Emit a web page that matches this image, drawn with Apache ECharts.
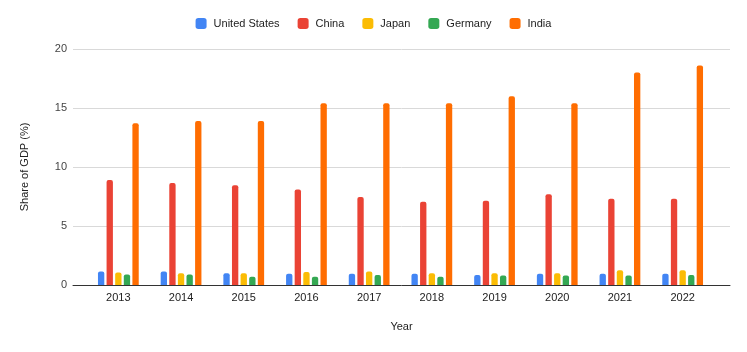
<!DOCTYPE html>
<html>
<head>
<meta charset="utf-8">
<script src="https://cdn.jsdelivr.net/npm/echarts@6/dist/echarts.min.js"></script>
<style>
  html, body { margin: 0; padding: 0; background: #fff; }
  #chart { width: 747px; height: 352px; }
</style>
</head>
<body>
<div id="chart"></div>
<script>
const years = ['2013', '2014', '2015', '2016', '2017', '2018', '2019', '2020', '2021', '2022']
const unitedStates = [1.15, 1.15, 1.0, 0.95, 0.95, 0.95, 0.85, 0.95, 0.95, 0.95]
const china = [8.9, 8.65, 8.45, 8.1, 7.45, 7.05, 7.15, 7.7, 7.3, 7.3]
const japan = [1.05, 1.0, 1.0, 1.1, 1.15, 1.0, 1.0, 1.0, 1.25, 1.25]
const germany = [0.9, 0.9, 0.7, 0.7, 0.85, 0.7, 0.8, 0.8, 0.8, 0.85]
const india = [13.7, 13.9, 13.9, 15.4, 15.4, 15.4, 16.0, 15.4, 18.0, 18.6]
const yTicks = [0, 5, 10, 15, 20]

const font = 'Liberation Sans, Arial, sans-serif'
const chart = echarts.init(document.getElementById('chart'))

function barSeries(name, data, color) {
  return {
    name: name,
    type: 'bar',
    xAxisIndex: 1,
    yAxisIndex: 1,
    data: data,
    barGap: '36%',
    barCategoryGap: '35%',
    itemStyle: { color: color, borderRadius: [2, 2, 0, 0] }
  }
}

chart.setOption({
  animation: false,
  textStyle: { fontFamily: font },
  legend: {
    top: 13,
    left: 'center',
    itemWidth: 11,
    itemHeight: 11,
    itemGap: 18,
    icon: 'roundRect',
    textStyle: { fontFamily: font, fontSize: 11, color: '#222', padding: [0, 0, 0, 2] },
    data: ['United States', 'China', 'Japan', 'Germany', 'India']
  },
  // grid 0 carries the full-width gridlines, grid 1 carries the bars
  grid: [
    { left: 73, right: 17, top: 49, bottom: 67 },
    { left: 87, right: 33, top: 49, bottom: 67 }
  ],
  xAxis: [
    {
      gridIndex: 0,
      type: 'value',
      min: 0,
      max: 1,
      name: 'Year',
      nameLocation: 'middle',
      nameGap: 36,
      nameTextStyle: { fontFamily: font, fontSize: 11, color: '#222' },
      axisLine: { show: true, lineStyle: { color: '#333', width: 1 } },
      axisTick: { show: false },
      axisLabel: { show: false },
      splitLine: { show: false }
    },
    {
      gridIndex: 1,
      type: 'category',
      data: years,
      axisLine: { show: false },
      axisTick: { show: false },
      axisLabel: { margin: 7, fontFamily: font, fontSize: 11, color: '#222' }
    }
  ],
  yAxis: [
    {
      gridIndex: 0,
      type: 'value',
      min: yTicks[0],
      max: yTicks[yTicks.length - 1],
      interval: 5,
      name: 'Share of GDP (%)',
      nameLocation: 'middle',
      nameGap: 43,
      nameTextStyle: { fontFamily: font, fontSize: 11, color: '#222' },
      axisLine: { show: false },
      axisTick: { show: false },
      axisLabel: { margin: 6, fontFamily: font, fontSize: 11, color: '#444' },
      splitLine: { lineStyle: { color: '#d9d9d9', width: 1 } }
    },
    {
      gridIndex: 1,
      type: 'value',
      min: yTicks[0],
      max: yTicks[yTicks.length - 1],
      interval: 5,
      show: false,
      splitLine: { show: false }
    }
  ],
  series: [
    barSeries('United States', unitedStates, '#4285F4'),
    barSeries('China', china, '#EA4335'),
    barSeries('Japan', japan, '#FBBC04'),
    barSeries('Germany', germany, '#34A853'),
    barSeries('India', india, '#FF6D01')
  ]
})
</script>
</body>
</html>
